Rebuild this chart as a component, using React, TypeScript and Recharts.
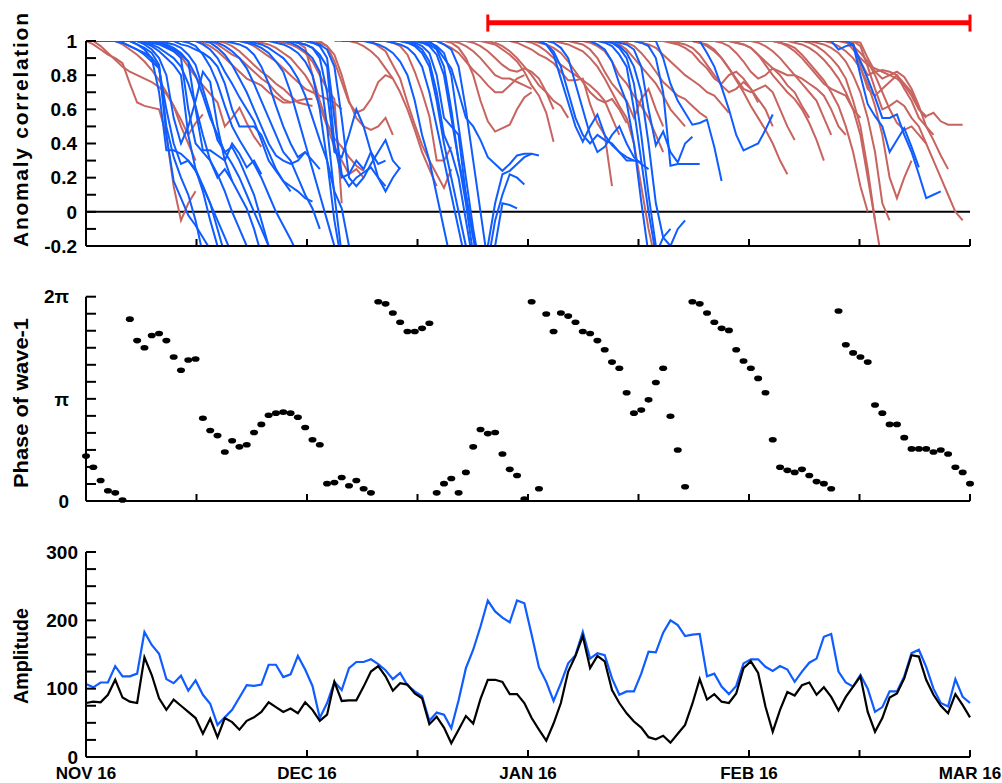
import { Line, LineChart, ReferenceLine, Scatter, ScatterChart, XAxis, YAxis } from "recharts"

const FONT = '"Liberation Sans", Arial, Helvetica, sans-serif'
const RED = "#c8645f"
const BLUE = "#0f5cff"

// x axis: days after Nov 16, ticks every half month
const dayTicks = [0, 15.125, 30.25, 45.375, 60.5, 75.625, 90.75, 105.875, 121]
const dayLabels = ["NOV 16", "", "DEC 16", "", "JAN 16", "", "FEB 16", "", "MAR 16"]

const corrTicks = [-0.2, -0.1, 0, 0.1, 0.2, 0.3, 0.4, 0.5, 0.6, 0.7, 0.8, 0.9, 1]
const corrLabels = ["-0.2", "", "0", "", "0.2", "", "0.4", "", "0.6", "", "0.8", "", "1"]

// phase in units of pi
const phaseTicks = [0, 1 / 6, 2 / 6, 3 / 6, 4 / 6, 5 / 6, 1, 7 / 6, 8 / 6, 9 / 6, 10 / 6, 11 / 6, 2]
const phaseLabels = ["0", "", "", "", "", "", "π", "", "", "", "", "", "2π"]

const ampTicks = [0, 25, 50, 75, 100, 125, 150, 175, 200, 225, 250, 275, 300]
const ampLabels = ["0", "", "", "", "100", "", "", "", "200", "", "", "", "300"]

// red bar over the top panel: first and last day
const markedSpan = [55, 121]

// forecast runs: [first day, value on that day, next day, ...]
const redRuns: number[][] = [
  [0, 1, .98, .95, .92, .9, .87, .75, .64, .62, .61, .6, .45, .15, -.05, .05, .12],
  [1, 1, .97, .93, .89, .85, .82, .8, .78, .76, .73, .69, .62, .54, .45, .52, .57],
  [3, 1, 1, .98, .95, .92, .88, .83, .77, .7, .62, .5, .4, .3],
  [10, 1, .97, .94, .91, .85, .79, .74, .69, .64, .5, .55, .61, .52, .44, .38],
  [14, 1, 1, .99, .97, .94, .9, .86, .82, .78, .76, .74, .7, .67, .64, .64],
  [16, 1, 1, .98, .95, .92, .9, .86, .82, .78, .75, .7, .66, .64, .65, .66, .66],
  [18, 1, .99, .97, .94, .9, .86, .82, .79, .75, .72, .68, .64, .63, .62],
  [20, 1, 1, .99, .97, .94, .91, .88, .84, .8, .76, .72, .7, .68, .66, .64, .6],
  [22, 1, 1, .99, .98, .96, .93, .9, .85, .8, .73, .62, .5, .38, .3, .22, .25, .2],
  [24, 1, 1, 1, .99, .98, .96, .93, .88, .8, .72, .66, .05],
  [28, 1, .99, .96, .8, .65, .52, .43, .38, .32, .27, .24],
  [31, 1, 1, .97, .88, .76, .64, .58, .6, .66, .76, .8, .78],
  [30, 1, 1, .99, .97, .92, .8, .65, .55, .5, .48, .5, .55, .45],
  [34, 1, 1, 1, .99, .97, .94, .9, .84, .78, .7, .6, .48, .35, .25, .15],
  [37, 1, 1, 1, .97, .94, .86, .78, .64, .51, .39, .3, .22, .14, .25],
  [40, 1, 1, .99, .97, .92, .82, .7, .56, .3, .3, .38],
  [45, 1, 1, 1, 1, .98, .96, .93, .88, .83, .79, .74, .7, .7, .74, .78, .8],
  [46, 1, 1, 1, 1, .99, .96, .9, .8, .65, .53, .47, .49, .51, .6, .67, .7],
  [48, 1, 1, 1, .99, .97, .94, .9, .85, .8, .78, .78, .76, .74, .72],
  [50, 1, 1, 1, .99, .97, .94, .9, .86, .83, .82, .84, .82, .78, .7, .6],
  [52, 1, 1, 1, .99, .98, .95, .92, .88, .82, .74, .68, .58, .41],
  [53, 1, 1, 1, .99, .97, .94, .9, .85, .8, .74, .7, .65, .62, .55],
  [56, 1, 1, 1, .99, .97, .95, .92, .9, .87, .82, .77, .77, .78, .63, .52, .45, .15],
  [57, 1, 1, 1, 1, .99, .97, .94, .9, .86, .83, .8, .77, .74, .7, .65, .55, .45],
  [58, 1, 1, 1, 1, .99, .98, .96, .93, .88, .82, .76, .7, .66, .64, .66, .6, .52],
  [60, 1, 1, 1, 1, 1, .99, .98, .96, .94, .9, .85, .78, .7, .62, .55, .4, .15, -.1, -.3],
  [62, 1, 1, 1, 1, 1, .99, .98, .95, .9, .82, .75, .7, .65, .55, .66, .72, .6, .5],
  [64, 1, 1, 1, 1, 1, .99, .97, .94, .88, .8, .75, .68, .62, .55, .45, .35],
  [66, 1, 1, 1, 1, 1, 1, .99, .98, .95, .9, .85, .8, .75, .68, .6, .55, .5],
  [68, 1, 1, 1, 1, 1, 1, .99, .97, .93, .88, .82, .76, .72, .68, .66, .62, .58, .55],
  [70, 1, 1, 1, 1, 1, 1, .99, .98, .96, .92, .88, .84, .8, .77, .74, .7, .68, .63, .58],
  [74, 1, 1, 1, 1, 1, 1, .99, .98, .96, .93, .88, .84, .78, .75, .8, .82, .78, .72, .64],
  [76, 1, 1, 1, 1, 1, .99, .98, .96, .92, .86, .8, .74, .7, .72, .76, .72, .66, .6, .5],
  [78, 1, 1, 1, 1, 1, 1, .99, .98, .95, .9, .84, .77, .7, .62, .55, .48, .4, .3, .22],
  [79, 1, 1, 1, 1, 1, .99, .97, .94, .9, .84, .78, .72, .7, .72, .74, .7, .6, .5, .42],
  [80, 1, 1, 1, 1, 1, 1, 1, .99, .97, .93, .88, .82, .78, .8, .84, .8, .74, .7, .62, .55],
  [82, 1, 1, 1, 1, 1, 1, 1, .99, .98, .96, .92, .86, .8, .75, .7, .66, .6, .52, .42, .3],
  [83, 1, 1, 1, 1, 1, 1, .99, .98, .96, .92, .88, .84, .82, .8, .8, .75, .7, .65, .55, .45],
  [84, 1, 1, 1, 1, 1, 1, 1, 1, .99, .97, .94, .9, .85, .8, .78, .75, .72, .68, .6, .5, .45],
  [86, 1, 1, 1, 1, 1, 1, 1, 1, 1, .99, .98, .96, .92, .87, .82, .77, .7, .62, .5, .35, .15, 0],
  [87, 1, 1, 1, 1, 1, 1, 1, 1, .99, .97, .94, .9, .85, .8, .75, .72, .7, .68, .6, .55],
  [88, 1, 1, 1, 1, 1, 1, 1, 1, 1, .99, .98, .96, .93, .89, .84, .78, .7, .6, .45, .2, -.05],
  [89, 1, 1, 1, 1, 1, 1, 1, 1, 1, 1, .99, .97, .94, .9, .85, .78, .65, .5, .25, -.05, -.3],
  [90, 1, 1, 1, 1, 1, 1, 1, 1, 1, 1, .99, .98, .96, .93, .88, .8, .7, .55, .35, .05, -.05],
  [91, 1, 1, 1, 1, 1, 1, 1, 1, 1, 1, 1, .99, .97, .94, .9, .84, .75, .62, .45, .2, .08, .2, .3],
  [92, 1, 1, 1, 1, 1, 1, 1, 1, 1, 1, 1, 1, .99, .97, .93, .88, .8, .7, .6, .52, .48, .5, .45, .4],
  [93, 1, 1, 1, 1, 1, 1, 1, 1, 1, 1, 1, 1, 1, .97, .85, .72, .6, .62, .65, .62, .55, .5, .4, .3, .2, .1, 0, -.05],
  [95, 1, 1, 1, 1, 1, 1, 1, 1, 1, 1, 1, .99, .9, .82, .78, .8, .82, .79, .72, .62, .5, .42, .33, .25],
  [97, 1, 1, 1, 1, 1, 1, 1, 1, .95, .9, .86, .84, .82, .8, .78, .74, .68, .6, .56, .58, .53, .51, .51, .51],
  [98, 1, 1, 1, 1, 1, 1, 1, .97, .88, .8, .82, .83, .82, .8, .72, .65, .55, .5, .45],
  [100, 1, 1, 1, 1, 1, .99, .85, .72, .68, .72, .76, .8, .75, .7, .6, .55],
]

const blueRuns: number[][] = [
  [1, 1, 1, 1, 1, 1, 1, .98, .96, .93, .86, .45, .18, .08, -.02, -.08, -.15, -.22],
  [2, 1, 1, 1, .99, .97, .95, .93, .9, .85, .5, .32, .2, .1, -.05, -.25],
  [3, 1, 1, 1, 1, .98, .95, .9, .7, .36, .36, .34, .3, .25, .12, -.05, -.2],
  [3, 1, 1, .99, .97, .95, .92, .88, .84, .6, .4, .28, .3, .24, .15, .05, -.1, -.25],
  [4, 1, 1, 1, 1, .98, .95, .9, .8, .55, .4, .5, .65, .82, .76, .5, .3, .18],
  [5, 1, 1, 1, .99, .97, .94, .9, .86, .8, .45, .25, .15, .05, -.05, -.15, -.25],
  [6, 1, 1, 1, .99, .98, .96, .94, .9, .6, .4, .35, .3, .22, .12, 0, -.1, -.2],
  [6, 1, 1, .99, .98, .96, .93, .9, .85, .75, .62, .45, .3, .2, .25, .18, .1, .02, -.1, -.25],
  [7, 1, 1, 1, .99, .98, .96, .93, .88, .8, .68, .55, .45, .35, .28, .2, .1, 0, -.1, -.2],
  [8, 1, 1, 1, .99, .98, .96, .92, .86, .72, .58, .42, .35, .38, .3, .2, .1, -.05, -.2],
  [8, 1, 1, .99, .97, .95, .92, .88, .6, .36, .36, .33, .3, .4, .34, .26, .3, .22],
  [10, 1, 1, 1, .98, .97, .95, .93, .9, .85, .75, .6, .5, .5, .5, .45, .35, .25, .18, .12],
  [12, 1, 1, .99, .97, .92, .85, .75, .62, .5, .42, .35, .28, .2, .1, 0, -.08, -.16, -.25],
  [13, 1, 1, 1, .98, .95, .9, .82, .75, .67, .6, .53, .42, .3, .24, .18, .15, .12, .08, .06],
  [14, 1, 1, 1, .99, .96, .92, .86, .78, .7, .6, .5, .4, .33, .3, .28, .3, .35],
  [15, 1, 1, 1, .99, .97, .94, .9, .84, .75, .65, .55, .45, .35, .3, .2, .1, .02, -.1],
  [16, 1, 1, 1, 1, .99, .98, .96, .92, .85, .75, .62, .5, .4, .32, .35, .3, .25],
  [18, 1, 1, 1, 1, .99, .98, .96, .93, .88, .82, .7, .55, .4, .25, .1, -.05, -.2],
  [20, 1, 1, 1, .99, .98, .96, .93, .9, .85, .78, .68, .55, .42, .3, .12, .02, -.2],
  [22, 1, 1, 1, 1, .99, .98, .96, .93, .88, .8, .6, .3, -.05, -.3],
  [23, 1, 1, 1, 1, 1, .99, .97, .94, .9, .82, .5, .1, -.25],
  [24, 1, 1, 1, 1, 1, .99, .98, .96, .9, .7, .35, .32, .45, .6, .5, .35, .2, .15],
  [25, 1, 1, 1, 1, .99, .98, .96, .92, .85, .4, .2, .22, .3, .25, .35, .28, .3],
  [26, 1, 1, 1, 1, 1, .99, .98, .95, .85, .55, .2, .15, .2, .28, .35, .42, .3, .25],
  [27, 1, 1, 1, 1, .99, .97, .9, .55, .22, .15, .2, .23, .26, .2, .12, .2, .26],
  [35, 1, 1, 1, 1, .99, .98, .96, .93, .88, .8, .65, .45, .3, .1, -.1, -.3],
  [37, 1, 1, 1, 1, 1, .99, .98, .96, .92, .85, .7, .5, .3, .1, -.1, -.3],
  [38, 1, 1, 1, 1, 1, 1, .99, .97, .93, .85, .65, .4, .2, 0, -.2, -.35],
  [39, 1, 1, 1, 1, 1, .99, .98, .95, .88, .7, .45, .35, .2, -.05, -.3],
  [40, 1, 1, 1, 1, 1, .99, .97, .93, .8, .55, .5, .45, .1, -.15, -.3],
  [41, 1, 1, 1, 1, 1, .99, .98, .95, .85, .6, .3, .05, -.25],
  [42, 1, 1, 1, 1, .99, .97, .92, .8, .55, .3, .1, -.15, -.4, -.2, .05, .22, .24, .28, .32, .34, .33],
  [43, 1, 1, 1, 1, .99, .97, .93, .8, .5, .2, -.1, -.35, -.3, -.05, .1, .22, .2, .16],
  [45, 1, 1, 1, .96, .9, .84, .7, .55, .5, .42, .32, .28, .24, .28, .33, .34, .34],
  [45, 1, 1, 1, 1, .98, .95, .85, .6, .3, 0, -.3, -.2, .05, .04, .02],
  [58, 1, 1, 1, 1, 1, .98, .92, .78, .64, .5, .41, .5, .57, .45, .39, .35, .32, .3, .29],
  [59, 1, 1, 1, 1, .98, .94, .85, .7, .55, .45, .4, .45, .42, .4, .35, .3, .3],
  [60, 1, 1, 1, 1, .99, .96, .9, .75, .6, .45, .35, .38, .45, .5, .4, .32, .28, .25],
  [62, 1, 1, 1, 1, 1, 1, 1, 1, .98, .95, .88, .75, .64, .4, .06, -.25],
  [64, 1, 1, 1, 1, 1, 1, 1, .99, .97, .92, .85, .6, .3, 0, -.25, -.15, -.1],
  [65, 1, 1, 1, 1, 1, 1, 1, .99, .96, .9, .75, .45, .1, -.2, -.3],
  [66, 1, 1, 1, 1, 1, 1, .99, .97, .93, .85, .7, .4, .05, -.15, -.2, -.1, -.05],
  [68, 1, 1, 1, 1, 1, .99, .98, .95, .85, .6, .39, .47, .35, .29, .4, .44],
  [70, 1, 1, 1, 1, 1, 1, .99, .97, .9, .7, .27, .28, .28, .28, .28],
  [77, 1, 1, .9, .75, .65, .58, .51, .52, .54, .38, .18],
  [83, 1, 1, .93, .85, .73, .6, .45, .36, .38, .4, .48, .57],
  [97, 1, 1, 1, 1, 1, 1, .95, .97, .98, .8, .63, .56, .5, .35, .42, .49, .38, .26],
  [100, 1, 1, 1, 1, 1, .98, .88, .78, .67, .55, .55, .57, .45, .35, .22, .08, .1, .12],
]

// phase of wave-1, one value per day, in units of pi
const phase = [
  .44, .33, .2, .1, .08, .01, 1.78, 1.57, 1.5, 1.62, 1.64, 1.57, 1.41, 1.28, 1.38, 1.39,
  .81, .69, .64, .48, .59, .53, .55, .67, .75, .84, .86, .87, .86, .82, .72, .6, .55,
  .17, .18, .23, .15, .2, .12, .08, 1.95, 1.93, 1.84, 1.75, 1.66, 1.66, 1.69, 1.74,
  .08, .17, .22, .08, .28, .53, .7, .66, .67, .46, .31, .25, .02, 1.95, .12, 1.83, 1.66,
  1.84, 1.81, 1.75, 1.66, 1.64, 1.57, 1.48, 1.36, 1.3, 1.06, .86, .89, .99, 1.16, 1.3,
  .83, .5, .14, 1.95, 1.93, 1.84, 1.75, 1.69, 1.67, 1.48, 1.37, 1.3, 1.2, 1.06, .6, .33,
  .3, .28, .31, .25, .19, .17, .12, 1.86, 1.53, 1.45, 1.41, 1.36, .94, .86, .75, .75,
  .62, .51, .51, .51, .48, .5, .46, .33, .28, .17,
]

const ampBlue = [
  107, 102, 109, 109, 133, 118, 118, 122, 183, 164, 151, 114, 108, 119, 97, 112, 91, 78,
  47, 58, 69, 87, 105, 104, 106, 135, 135, 117, 121, 148, 128, 104, 57, 79, 110, 98, 130,
  139, 139, 143, 136, 127, 114, 123, 105, 96, 89, 53, 65, 62, 42, 83, 130, 157, 191, 229,
  213, 204, 197, 229, 225, 179, 131, 110, 82, 108, 137, 149, 183, 144, 152, 149, 115, 91,
  96, 96, 122, 154, 153, 182, 200, 193, 177, 179, 180, 118, 122, 103, 92, 104, 137, 143,
  143, 132, 126, 133, 128, 110, 125, 138, 144, 176, 180, 125, 109, 103, 120, 100, 66, 73,
  96, 96, 118, 152, 157, 132, 100, 79, 74, 114, 88, 79,
]

const ampBlack = [
  79, 81, 80, 91, 113, 87, 81, 79, 146, 120, 86, 69, 84, 75, 66, 57, 34, 56, 29, 57, 51,
  40, 53, 58, 66, 80, 73, 66, 71, 64, 80, 69, 53, 62, 110, 82, 83, 83, 103, 125, 133, 118,
  97, 108, 106, 93, 86, 48, 59, 43, 20, 40, 60, 49, 85, 113, 113, 110, 92, 92, 79, 57, 40,
  24, 49, 79, 125, 148, 177, 130, 148, 140, 98, 79, 64, 52, 43, 29, 26, 31, 21, 34, 47,
  78, 114, 84, 92, 81, 79, 93, 130, 140, 123, 74, 37, 69, 95, 90, 105, 109, 91, 102, 88,
  68, 88, 103, 118, 66, 37, 57, 87, 93, 115, 149, 147, 113, 91, 75, 64, 92, 76, 58,
]

const corrRows = phase.map((_, d) => {
  const row: Record<string, number> = { day: d }
  redRuns.forEach((run, i) => {
    const k = d - run[0]
    if (k >= 0 && k < run.length - 1) row["r" + i] = run[k + 1]
  })
  blueRuns.forEach((run, i) => {
    const k = d - run[0]
    if (k >= 0 && k < run.length - 1) row["b" + i] = run[k + 1]
  })
  return row
})

const phaseRows = phase.map((p, d) => ({ day: d, p }))
const ampRows = ampBlue.map((v, d) => ({ day: d, blue: v, black: ampBlack[d] }))

const tickFont = { fill: "#000", fontSize: 19, fontWeight: 700, fontFamily: FONT }
const axisStroke = { stroke: "#000", strokeWidth: 2 }
const Y_W = 40

function SideTitle({ text, cy, length, adjust }: { text: string; cy: number; length: number; adjust: string }) {
  return (
    <text
      x={28}
      y={cy}
      transform={`rotate(-90 28 ${cy})`}
      textAnchor="middle"
      fontFamily={FONT}
      fontSize={21}
      fontWeight={700}
      textLength={length}
      lengthAdjust={adjust}
      fill="#000"
    >
      {text}
    </text>
  )
}

function Dot(props: any) {
  return <ellipse cx={props.cx} cy={props.cy} rx={4} ry={2.8} fill="#000" />
}

export default function App() {
  const [from, to] = markedSpan
  return (
    <div style={{ position: "absolute", left: 0, top: 0, width: 1002, height: 783, background: "#fff" }}>
      <svg width={1002} height={783} style={{ position: "absolute", left: 0, top: 0 }}>
        <SideTitle text="Anomaly correlation" cy={130} length={234} adjust="spacing" />
        <SideTitle text="Phase of wave-1" cy={403} length={170} adjust="spacingAndGlyphs" />
        <SideTitle text="Amplitude" cy={656} length={96} adjust="spacingAndGlyphs" />
      </svg>

      <div style={{ position: "absolute", left: 0, top: 0 }}>
        <LineChart width={1002} height={260} data={corrRows} margin={{ top: 41, right: 32, left: 86 - Y_W, bottom: 0 }}>
          <XAxis
            type="number"
            dataKey="day"
            domain={[0, 121]}
            ticks={dayTicks}
            tickFormatter={() => ""}
            height={14}
            tickSize={-7}
            axisLine={axisStroke}
            tickLine={axisStroke}
            allowDataOverflow
          />
          <YAxis
            type="number"
            domain={[-0.2, 1]}
            ticks={corrTicks}
            tickFormatter={(v: number) => corrLabels[corrTicks.indexOf(v)] ?? ""}
            width={Y_W}
            tickSize={-10}
            tickMargin={19}
            tick={tickFont}
            axisLine={axisStroke}
            tickLine={axisStroke}
            interval={0}
            allowDataOverflow
          />
          <ReferenceLine y={0} stroke="#000" strokeWidth={2} />
          {redRuns.map((_, i) => (
            <Line key={"r" + i} dataKey={"r" + i} stroke={RED} strokeWidth={2} dot={false} isAnimationActive={false} />
          ))}
          {blueRuns.map((_, i) => (
            <Line key={"b" + i} dataKey={"b" + i} stroke={BLUE} strokeWidth={2} dot={false} isAnimationActive={false} />
          ))}
          <ReferenceLine segment={[{ x: from, y: 1.107 }, { x: to, y: 1.107 }]} stroke="#ff0000" strokeWidth={5} ifOverflow="visible" />
          <ReferenceLine segment={[{ x: from, y: 1.155 }, { x: from, y: 1.055 }]} stroke="#ff0000" strokeWidth={3} ifOverflow="visible" />
          <ReferenceLine segment={[{ x: to, y: 1.155 }, { x: to, y: 1.055 }]} stroke="#ff0000" strokeWidth={3} ifOverflow="visible" />
        </LineChart>
      </div>

      <div style={{ position: "absolute", left: 0, top: 256 }}>
        <ScatterChart width={1002} height={260} margin={{ top: 40.7, right: 32, left: 86 - Y_W, bottom: 0 }}>
          <XAxis
            type="number"
            dataKey="day"
            domain={[0, 121]}
            ticks={dayTicks}
            tickFormatter={() => ""}
            height={15}
            tickSize={-7}
            axisLine={axisStroke}
            tickLine={axisStroke}
          />
          <YAxis
            type="number"
            dataKey="p"
            domain={[0, 2]}
            ticks={phaseTicks}
            tickFormatter={(v: number) => phaseLabels[phaseTicks.indexOf(v)] ?? ""}
            width={Y_W}
            tickSize={-10}
            tickMargin={27}
            tick={tickFont}
            axisLine={axisStroke}
            tickLine={axisStroke}
            interval={0}
          />
          <Scatter data={phaseRows} shape={Dot} isAnimationActive={false} />
        </ScatterChart>
      </div>

      <div style={{ position: "absolute", left: 0, top: 520 }}>
        <LineChart width={1002} height={263} data={ampRows} margin={{ top: 32, right: 32, left: 86 - Y_W, bottom: 0 }}>
          <XAxis
            type="number"
            dataKey="day"
            domain={[0, 121]}
            ticks={dayTicks}
            tickFormatter={(v: number) => dayLabels[dayTicks.indexOf(v)] ?? ""}
            height={26}
            tickSize={-7}
            tickMargin={17}
            tick={{ ...tickFont, fontSize: 17 }}
            axisLine={axisStroke}
            tickLine={axisStroke}
            interval={0}
          />
          <YAxis
            type="number"
            domain={[0, 300]}
            ticks={ampTicks}
            tickFormatter={(v: number) => ampLabels[ampTicks.indexOf(v)] ?? ""}
            width={Y_W}
            tickSize={-10}
            tickMargin={18}
            tick={tickFont}
            axisLine={axisStroke}
            tickLine={axisStroke}
            interval={0}
          />
          <Line dataKey="blue" stroke={BLUE} strokeWidth={2.2} dot={false} isAnimationActive={false} />
          <Line dataKey="black" stroke="#000" strokeWidth={2.2} dot={false} isAnimationActive={false} />
        </LineChart>
      </div>
    </div>
  )
}
